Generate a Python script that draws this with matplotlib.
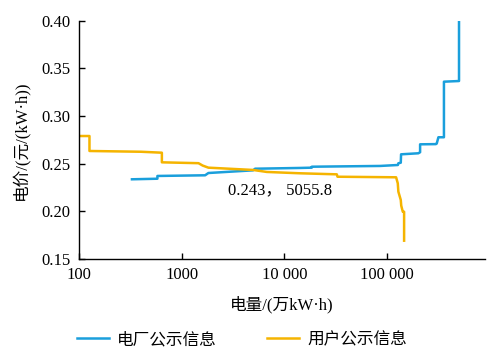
import numpy as np
import matplotlib as mpl
mpl.use("Agg")
import matplotlib.pyplot as plt

plt.rcParams['font.family'] = ['Liberation Serif', 'Noto Sans CJK SC']
plt.rcParams['font.size'] = 12
plt.rcParams['axes.unicode_minus'] = False

color_plant = '#1a9fdc'
color_user = '#f5b400'

# power plant disclosed info (step curve)
plant_q = [327, 579, 579, 1690, 1820, 4960, 5190, 14260, 18530, 18530, 85900,
           128000, 129400, 136600, 137500, 202800, 210800, 210800, 300000,
           306000, 318000, 360000, 360000, 505000, 505000]
plant_p = [0.2336, 0.2342, 0.2371, 0.2378, 0.2402, 0.2430, 0.2447, 0.2455,
           0.2458, 0.2468, 0.2476, 0.2486, 0.2504, 0.2510, 0.2598, 0.2609,
           0.2620, 0.2703, 0.2705, 0.2710, 0.2777, 0.2777, 0.3360, 0.3367,
           0.4100]

# user disclosed info (step curve)
user_q = [100, 126, 126, 400, 640, 640, 1456, 1600, 1820, 4960, 6750, 14260,
          32500, 33000, 123000, 127700, 129400, 136600, 138000, 142900,
          147200, 147200]
user_p = [0.279, 0.279, 0.2633, 0.2625, 0.2615, 0.2514, 0.2505, 0.2480,
          0.2458, 0.2434, 0.2413, 0.2399, 0.2388, 0.2363, 0.2357, 0.2294,
          0.2206, 0.2119, 0.2060, 0.1996, 0.1996, 0.1692]

x_ticks = [100, 1000, 10000, 100000]
x_ticklabels = ['100', '1000', '10 000', '100 000']
y_ticks = [0.15, 0.20, 0.25, 0.30, 0.35, 0.40]
y_ticklabels = ['0.15', '0.20', '0.25', '0.30', '0.35', '0.40']

fig = plt.figure(figsize=(4.98, 3.59), dpi=100)
ax = fig.add_axes([0.159, 0.2786, 0.815, 0.6638])

l1, = ax.plot(plant_q, plant_p, color=color_plant, lw=1.8, label='电厂公示信息')
l2, = ax.plot(user_q, user_p, color=color_user, lw=1.8, label='用户公示信息')

ax.set_xscale('log')
ax.set_xlim(100, 906000)
ax.set_ylim(0.15, 0.40)
ax.set_xticks(x_ticks)
ax.set_xticklabels(x_ticklabels)
ax.xaxis.set_minor_locator(mpl.ticker.NullLocator())
ax.set_yticks(y_ticks)
ax.set_yticklabels(y_ticklabels)

ax.spines['right'].set_visible(False)
ax.spines['top'].set_visible(False)
for s in ['left', 'bottom']:
    ax.spines[s].set_linewidth(1.0)
ax.tick_params(direction='in', length=4, width=1.0, pad=6, labelsize=12)

ax.set_xlabel('电量/(万kW·h)', fontsize=12)
ax.xaxis.label.set_va('center')
ax.xaxis.set_label_coords(0.5, -0.193)
ax.set_ylabel('电价/(元/(kW·h))', fontsize=12)
ax.yaxis.label.set_va('center')
ax.yaxis.set_label_coords(-0.145, 0.5)

ax.text(2830, 0.2224, '0.243， 5055.8', ha='left', va='center', fontsize=12)

fig.legend(handles=[l1, l2], loc='center', bbox_to_anchor=(242 / 498, 1 - 340 / 359),
           ncol=2, frameon=False, fontsize=12, handlelength=1.9,
           handletextpad=0.5, columnspacing=3.0)

fig.savefig('out.png', dpi=100)
